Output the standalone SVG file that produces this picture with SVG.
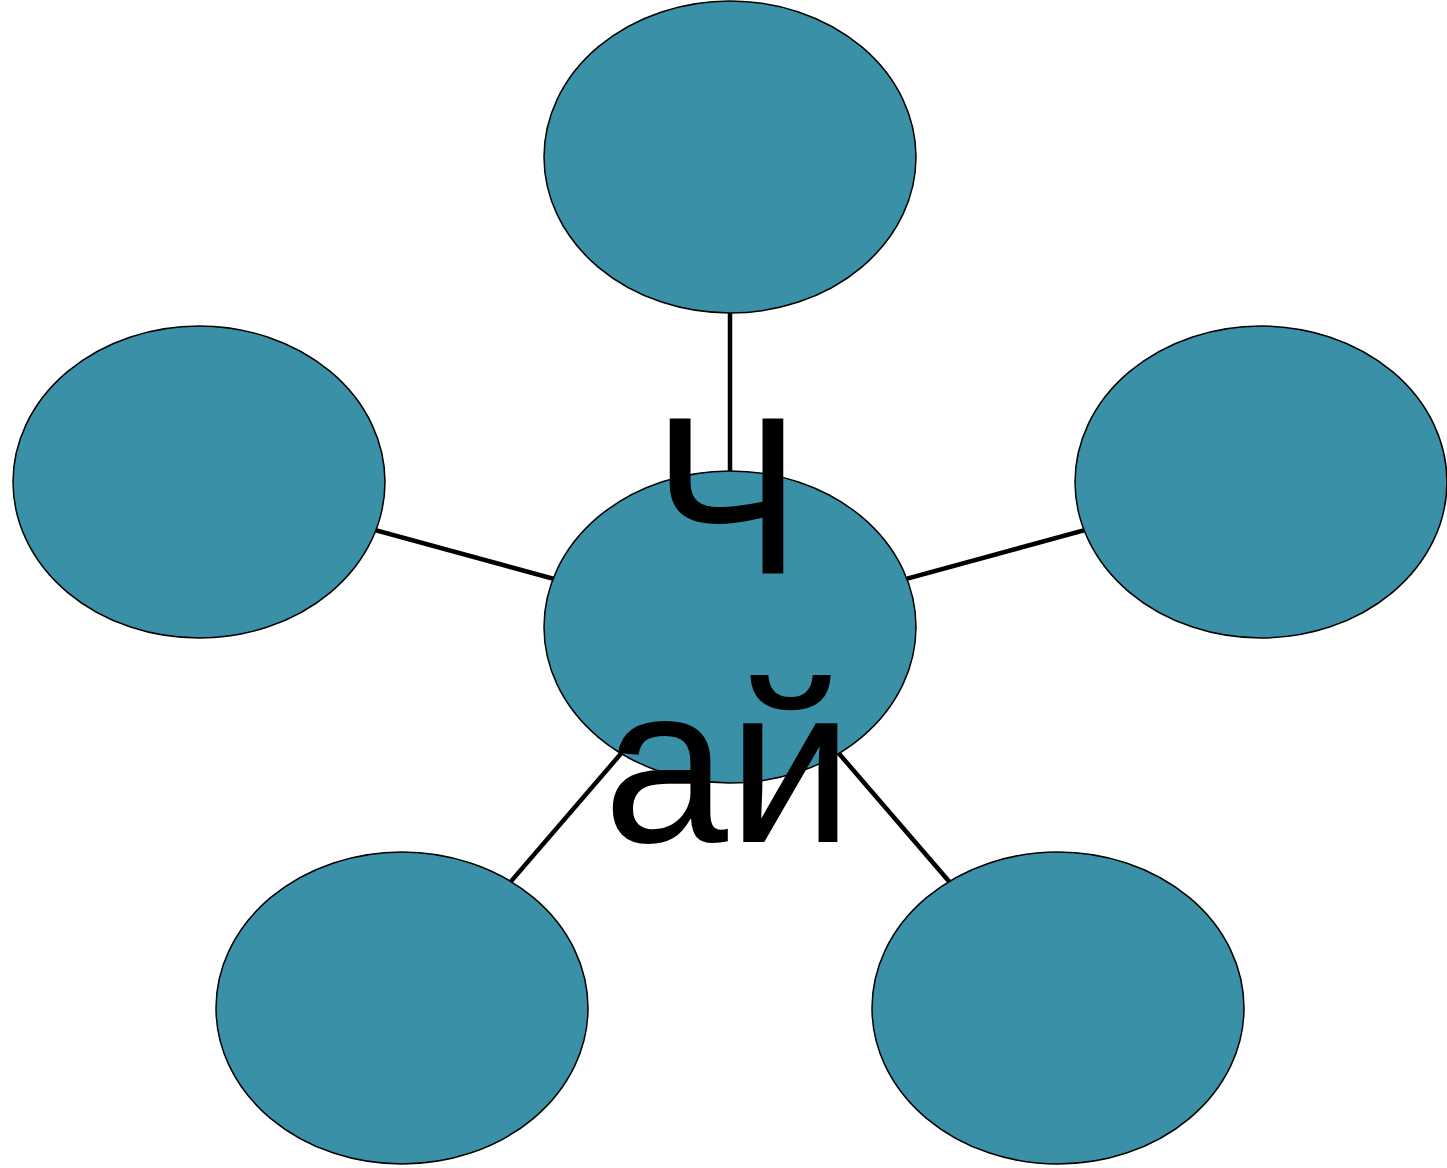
<svg xmlns="http://www.w3.org/2000/svg" width="1447" height="1168" viewBox="0 0 1447 1168">
<style>
.node{fill:#3a90a7;stroke:#000;stroke-width:1.5}
.edge{stroke:#000;stroke-width:4.5;fill:none}
.lbl{font-family:"Liberation Sans",Arial,sans-serif;font-size:224px;fill:#000;text-anchor:middle}
</style>
<rect width="1447" height="1168" fill="#fff"/>
<g id="connectors">
<line class="edge" x1="730" y1="157" x2="730" y2="627"/>
<line class="edge" x1="199" y1="482" x2="730" y2="627"/>
<line class="edge" x1="1261" y1="482" x2="730" y2="627"/>
<line class="edge" x1="402" y1="1008" x2="730" y2="627"/>
<line class="edge" x1="1058" y1="1008" x2="730" y2="627"/>
</g>
<g id="node-top"><ellipse class="node" cx="730" cy="157" rx="186" ry="156"/></g>
<g id="node-left"><ellipse class="node" cx="199" cy="482" rx="186" ry="156"/></g>
<g id="node-right"><ellipse class="node" cx="1261" cy="482" rx="186" ry="156"/></g>
<g id="node-bottom-left"><ellipse class="node" cx="402" cy="1008" rx="186" ry="156"/></g>
<g id="node-bottom-right"><ellipse class="node" cx="1058" cy="1008" rx="186" ry="156"/></g>
<g id="node-center">
<ellipse class="node" cx="730" cy="627" rx="186" ry="156"/>
<text class="lbl" x="727" y="573">Ч</text>
<text class="lbl" x="728" y="842">ай</text>
</g>
</svg>
